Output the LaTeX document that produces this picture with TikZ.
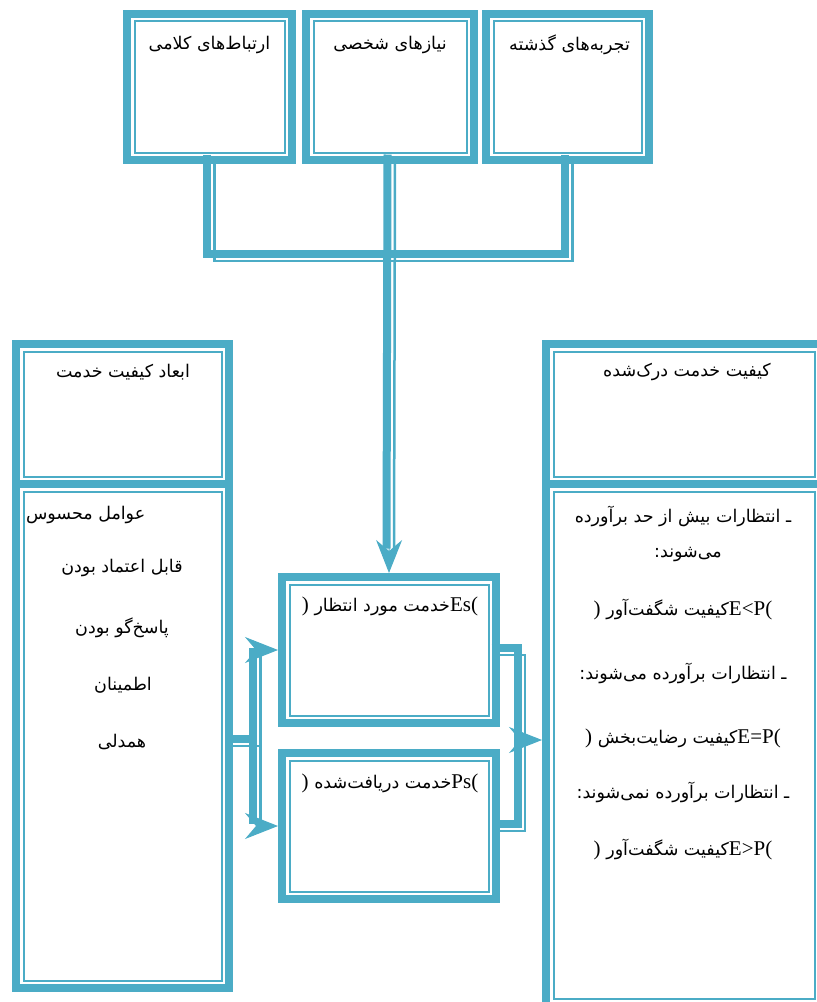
\documentclass[tikz,border=0pt]{standalone}
\usepackage{fontspec}
\setmainfont{Liberation Serif}
\newfontfamily\fa[Script=Arabic]{DejaVu Sans}
\usetikzlibrary{arrows.meta,calc}
\TeXXeTstate=1
\definecolor{acc}{HTML}{4BACC6}
\newcommand\fs{\fa\fontsize{17.5}{20}\selectfont}
\newcommand\ls{\rmfamily\fontsize{21}{24}\selectfont}
\newcommand\fat[1]{{\fs\beginR #1\endR}}
\newcommand\cl[1]{\draw[thk] #1; \draw[thn] #1;}
\begin{document}
\begin{tikzpicture}[x=1pt,y=-1pt,
  dbox/.style={rectangle, inner sep=0pt, outer sep=0pt, fill=white, path picture={
    \draw[acc, line width=8pt] ([shift={(4pt,4pt)}]path picture bounding box.south west) rectangle ([shift={(-4pt,-4pt)}]path picture bounding box.north east);
    \draw[acc, line width=2pt] ([shift={(11.5pt,11.5pt)}]path picture bounding box.south west) rectangle ([shift={(-11.5pt,-11.5pt)}]path picture bounding box.north east);}},
  txt/.style={inner sep=0pt, outer sep=0pt},
  thk/.style={acc, line width=8pt, line join=miter, transform canvas={shift={(-2.5pt,2.5pt)}}},
  thn/.style={acc, line width=2.5pt, line join=miter, transform canvas={shift={(5pt,-5pt)}}},
  arr/.style={acc, line width=1pt, -{Stealth[length=33pt,width=26pt,inset=11pt]}},
]
\useasboundingbox (0,0) rectangle (817,1002);
\clip (0,0) rectangle (817,1002);
% boxes
\node[dbox, minimum width=173pt, minimum height=154.5pt] (b1) at (209.5,86.75) {};
\node[dbox, minimum width=176pt, minimum height=154.5pt] (b2) at (390,86.75) {};
\node[dbox, minimum width=171pt, minimum height=154.5pt] (b3) at (567.5,86.75) {};
\node[dbox, minimum width=221pt, minimum height=148pt] (lh) at (122.5,414) {};
\node[dbox, minimum width=221pt, minimum height=512pt] (ll) at (122.5,736) {};
\node[dbox, minimum width=284pt, minimum height=148pt] (rh) at (684,414) {};
\node[dbox, minimum width=284pt, minimum height=530pt] (rl) at (684,745) {};
\node[dbox, minimum width=222pt, minimum height=154pt] (es) at (389,650) {};
\node[dbox, minimum width=222pt, minimum height=154pt] (ps) at (389,826) {};
% texts
\node[txt] (t1) at ($(b1.north)+(0,35)$) {\fat{ارتباط^^^^200cهای کلامی}};
\node[txt] (t2) at ($(b2.north)+(0,35)$) {\fat{نیازهای شخصی}};
\node[txt] (t3) at ($(b3.north)+(2,35)$) {\fat{تجربه^^^^200cهای گذشته}};
\node[txt] (lht) at (123,372) {\fat{ابعاد کیفیت خدمت}};
\node[txt] (rht) at (687,372) {\fat{کیفیت خدمت درک^^^^200cشده}};
\node[txt, anchor=west] (l1) at (26,515) {\fat{عوامل محسوس}};
\node[txt] (l2) at (122,568) {\fat{قابل اعتماد بودن}};
\node[txt] (l3) at (122,628) {\fat{پاسخ^^^^200cگو بودن}};
\node[txt] (l4) at (123,685) {\fat{اطمینان}};
\node[txt] (l5) at (122,742) {\fat{همدلی}};
\node[txt] (tes) at (390,606) {{\ls)}{\fs\ }\fat{خدمت مورد انتظار}{\ls Es(}};
\node[txt] (tps) at (390,783) {{\ls)}{\fs\ }\fat{خدمت دریافت^^^^200cشده}{\ls Ps(}};
\node[txt] (r1) at (683,516) {\fat{ـ انتظارات بیش از حد برآورده}};
\node[txt] (r2) at (688,555) {\fat{می^^^^200cشوند:}};
\node[txt] (r3) at (683,610) {{\ls)}{\fs\ }\fat{کیفیت شگفت^^^^200cآور}{\ls E<P(}};
\node[txt] (r4) at (683,673) {\fat{ـ انتظارات برآورده می^^^^200cشوند:}};
\node[txt] (r5) at (683,738) {{\ls)}{\fs\ }\fat{کیفیت رضایت^^^^200cبخش}{\ls E=P(}};
\node[txt] (r6) at (683,792) {\fat{ـ انتظارات برآورده نمی^^^^200cشوند:}};
\node[txt] (r7) at (683,850) {{\ls)}{\fs\ }\fat{کیفیت شگفت^^^^200cآور}{\ls E>P(}};
% connectors
\coordinate (bar) at (390,256);
\coordinate (p1) at ($(b1.south)+(0,-7)$);
\coordinate (p2) at ($(b2.south)+(0,-7)$);
\coordinate (p3) at ($(b3.south)+(0,-7)$);
\cl{(p1) |- (bar) -| (p3)}
\cl{(p2) -- ([yshift=22pt]es.north)}
\draw[arr] (p2) -- (es.north);
\coordinate (lj) at (255.7,741);
\cl{($(ll.east)+(-5,5)$) -- (lj)}
\cl{(lj |- es.west) -- (lj |- ps.west)}
\draw[arr] (lj |- es.west) -- (es.west);
\draw[arr] (lj |- ps.west) -- (ps.west);
\coordinate (rj) at (520,740);
\cl{($(es.east)+(-6,0)$) -- (es.east -| rj) -- (ps.east -| rj) -- ($(ps.east)+(-6,0)$)}
\draw[arr] (rj) -- (rj -| rl.west);
\end{tikzpicture}
\end{document}
